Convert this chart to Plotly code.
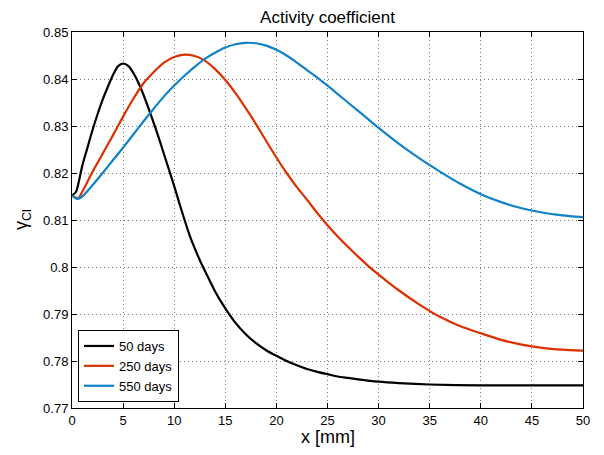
import plotly.graph_objects as go

# ---- data ----
x_50 = [0, 0.4, 1, 1.5, 2, 2.5, 3, 3.5, 4, 4.5, 5, 5.5, 6, 6.5, 7, 7.5, 8, 8.5, 9, 9.5,
        10, 10.5, 11, 11.5, 12, 12.5, 13, 14, 15, 16, 17, 18, 19, 20, 21, 22, 23, 24,
        25, 26, 27, 28, 30, 32, 35, 40, 45, 50]
y_50 = [0.8152, 0.8160, 0.8215, 0.8253, 0.8291, 0.8325, 0.8356, 0.8383, 0.8408, 0.8427,
        0.8433, 0.8428, 0.8413, 0.8392, 0.8366, 0.8337, 0.8306, 0.8274, 0.8240, 0.8206,
        0.8172, 0.8136, 0.8101, 0.8068, 0.8040, 0.8015, 0.7992, 0.7948, 0.7912, 0.7881,
        0.7857, 0.7838, 0.7823, 0.7811, 0.7800, 0.7791, 0.7783, 0.7777, 0.7772, 0.7767,
        0.7764, 0.7761, 0.7756, 0.7753, 0.7750, 0.7748, 0.7748, 0.7748]

x_250 = [0, 0.6, 1, 2, 3, 4, 5, 6, 7, 8, 9, 10, 11, 12, 13, 14, 15, 16, 17, 18, 19, 20,
         21, 22, 23, 24, 25, 26, 27, 28, 29, 30, 32, 34, 36, 38, 40, 42, 44, 46, 48, 50]
y_250 = [0.8152, 0.8146, 0.8160, 0.8202, 0.8241, 0.8280, 0.8320, 0.8358, 0.8391, 0.8415,
         0.8435, 0.8447, 0.8452, 0.8449, 0.8439, 0.8421, 0.8398, 0.8370, 0.8338, 0.8304,
         0.8268, 0.8233, 0.8200, 0.8170, 0.8143, 0.8115, 0.8089, 0.8065, 0.8043, 0.8022,
         0.8002, 0.7984, 0.7950, 0.7920, 0.7894, 0.7874, 0.7859, 0.7845, 0.7835, 0.7828,
         0.7824, 0.7822]

x_550 = [0, 0.5, 1, 2, 3, 4, 5, 6, 7, 8, 9, 10, 11, 12, 13, 14, 15, 16, 17, 18, 19, 20,
         21, 22, 23, 24, 25, 26, 27, 28, 29, 30, 32, 34, 36, 38, 40, 42, 44, 46, 48, 50]
y_550 = [0.8152, 0.8145, 0.8150, 0.8174, 0.8200, 0.8227, 0.8254, 0.8282, 0.8310, 0.8337,
         0.8363, 0.8386, 0.8407, 0.8426, 0.8443, 0.8456, 0.8467, 0.8474, 0.8477, 0.8476,
         0.8471, 0.8462, 0.8450, 0.8435, 0.8419, 0.8403, 0.8386, 0.8368, 0.8350, 0.8332,
         0.8314, 0.8296, 0.8262, 0.8231, 0.8203, 0.8177, 0.8155, 0.8138, 0.8125, 0.8116,
         0.8110, 0.8106]

series_names = ["50 days", "250 days", "550 days"]
series_colors = ["#000000", "#dc3000", "#0f82c8"]

x_ticks = [0, 5, 10, 15, 20, 25, 30, 35, 40, 45, 50]
y_ticks = [0.77, 0.78, 0.79, 0.80, 0.81, 0.82, 0.83, 0.84, 0.85]
y_ticklabels = ["0.77", "0.78", "0.79", "0.8", "0.81", "0.82", "0.83", "0.84", "0.85"]

FONT = "Liberation Sans, Arial, Helvetica, sans-serif"

# page body has an 8px margin; size the figure so the plot area lands at x 72-583, y 32-408
W, H = 596, 447
ML, MR, MT, MB = 64, 21, 24, 47
PW, PH = W - ML - MR, H - MT - MB

fig = go.Figure()
for xs, ys, name, col in zip([x_50, x_250, x_550], [y_50, y_250, y_550],
                             series_names, series_colors):
    fig.add_trace(go.Scatter(x=xs, y=ys, mode="lines", name=name,
                             line=dict(color=col, width=2.2, shape="spline", smoothing=0.6)))

axis_common = dict(
    showline=True, linecolor="black", linewidth=1, mirror="ticks",
    ticks="inside", ticklen=5, tickcolor="black", tickwidth=1,
    showgrid=True, gridcolor="#7a7a7a", griddash="1px,3px", gridwidth=1,
    zeroline=False, tickfont=dict(family=FONT, size=13, color="black"),
)

fig.update_layout(
    width=W, height=H,
    margin=dict(l=ML, r=MR, t=MT, b=MB, autoexpand=False),
    paper_bgcolor="white", plot_bgcolor="white",
    font=dict(family=FONT, color="black"),
    title=dict(text="Activity coefficient", x=0.5, xanchor="center",
               xref="paper", y=1 - 9 / H, yref="container", yanchor="middle",
               font=dict(family=FONT, size=17, color="black")),
    xaxis=dict(range=[0, 50], tickvals=x_ticks, ticktext=[str(v) for v in x_ticks],
               **axis_common),
    yaxis=dict(range=[0.77, 0.85], tickvals=y_ticks, ticktext=y_ticklabels,
               **axis_common),
    legend=dict(x=6 / PW, y=6 / PH, xanchor="left", yanchor="bottom",
                bgcolor="white", bordercolor="black", borderwidth=1,
                font=dict(family=FONT, size=13, color="black"),
                tracegroupgap=0),
    showlegend=True,
)

fig.add_annotation(text="x [mm]", xref="paper", yref="paper",
                   x=0.5, y=-(437 - 408) / PH, showarrow=False,
                   xanchor="center", yanchor="middle",
                   font=dict(family=FONT, size=18, color="black"))
fig.add_annotation(text="γ<sub>Cl</sub>", xref="paper", yref="paper",
                   x=-(72 - 22) / PW, y=0.5, textangle=-90, showarrow=False,
                   xanchor="center", yanchor="middle",
                   font=dict(family=FONT, size=18, color="black"))

fig.write_html("out.html")
